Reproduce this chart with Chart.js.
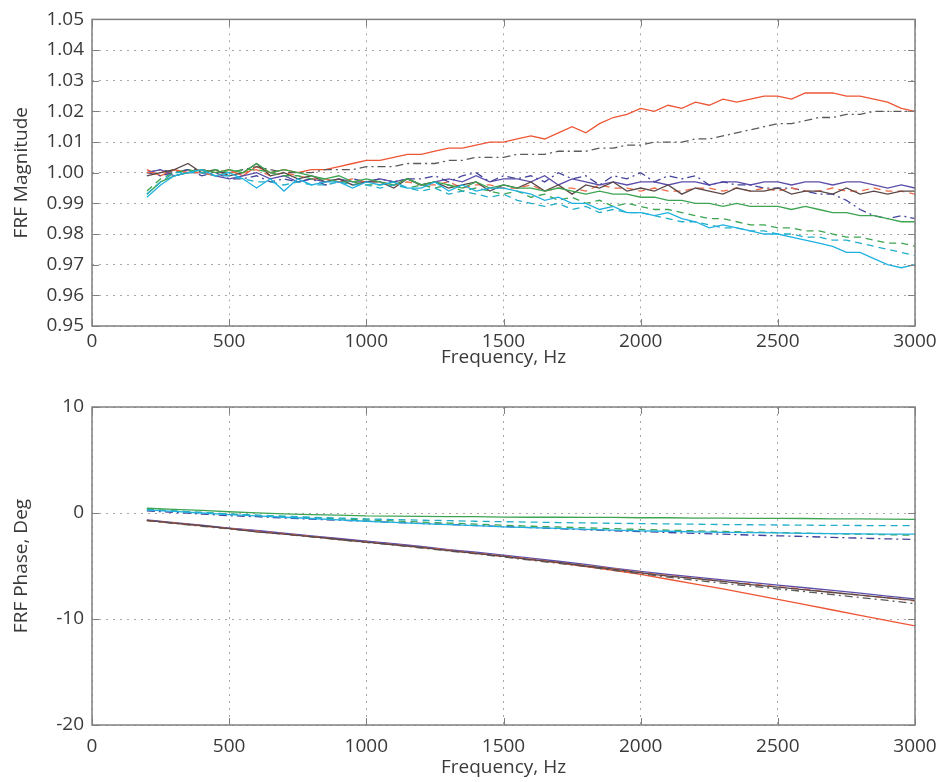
<!DOCTYPE html>
<html>
<head>
<meta charset="utf-8">
<script src="https://cdn.jsdelivr.net/npm/chart.js@4.4.1/dist/chart.umd.min.js"></script>
<style>
  html, body { margin: 0; padding: 0; background: #fff; }
  body { width: 941px; height: 782px; position: relative; overflow: hidden; }
  canvas { position: absolute; left: 0; }
  #mag { top: 0; }
  #phase { top: 380px; }
</style>
</head>
<body>
<canvas id="mag" width="941" height="372"></canvas>
<canvas id="phase" width="941" height="402"></canvas>
<script>
'use strict';

// frequency points, Hz
const magFreq = [200, 250, 300, 350, 400, 450, 500, 550, 600, 650, 700, 750, 800, 850, 900, 950,
  1000, 1050, 1100, 1150, 1200, 1250, 1300, 1350, 1400, 1450, 1500, 1550, 1600, 1650, 1700, 1750,
  1800, 1850, 1900, 1950, 2000, 2050, 2100, 2150, 2200, 2250, 2300, 2350, 2400, 2450, 2500, 2550,
  2600, 2650, 2700, 2750, 2800, 2850, 2900, 2950, 3000];
const phaseFreq = [200, 300, 400, 500, 600, 700, 800, 900, 1000, 1100, 1200, 1300, 1400, 1500, 1600,
  1700, 1800, 1900, 2000, 2100, 2200, 2300, 2400, 2500, 2600, 2700, 2800, 2900, 3000];

// FRF magnitude
const magRed = [1.001, 0.999, 1.001, 1.000, 1.001, 1.000, 1.001, 0.999, 1.002, 1.000, 1.001, 1.000, 1.001, 1.001, 1.002, 1.003, 1.004,
  1.004, 1.005, 1.006, 1.006, 1.007, 1.008, 1.008, 1.009, 1.010, 1.010,
  1.011, 1.012, 1.011, 1.013, 1.015, 1.013, 1.016, 1.018, 1.019, 1.021,
  1.020, 1.022, 1.021, 1.023, 1.022, 1.024, 1.023, 1.024, 1.025, 1.025,
  1.024, 1.026, 1.026, 1.026, 1.025, 1.025, 1.024, 1.023, 1.021, 1.020];
const magGrayDD = [1.000, 1.001, 1.000, 1.001, 1.001, 1.000, 1.000, 1.001, 1.002, 1.001, 1.000, 1.000, 1.000, 1.001, 1.001, 1.001, 1.002,
  1.002, 1.002, 1.003, 1.003, 1.003, 1.004, 1.004, 1.005, 1.005, 1.005,
  1.006, 1.006, 1.006, 1.007, 1.007, 1.007, 1.008, 1.008, 1.009, 1.009,
  1.010, 1.010, 1.010, 1.011, 1.011, 1.012, 1.013, 1.014, 1.015, 1.016,
  1.016, 1.017, 1.018, 1.018, 1.019, 1.019, 1.020, 1.020, 1.020, 1.020];
const magPurple = [1.000, 1.001, 0.999, 1.000, 1.000, 0.999, 0.998, 0.999, 1.000, 0.998, 0.999, 0.997, 0.998, 0.997, 0.998, 0.997, 0.997,
  0.998, 0.997, 0.998, 0.996, 0.997, 0.998, 0.997, 0.999, 0.997, 0.998,
  0.998, 0.997, 0.999, 0.996, 0.998, 0.997, 0.996, 0.997, 0.996, 0.997,
  0.997, 0.996, 0.997, 0.997, 0.996, 0.997, 0.997, 0.996, 0.997, 0.997,
  0.996, 0.997, 0.997, 0.996, 0.997, 0.997, 0.996, 0.995, 0.996, 0.995];
const magBrown = [0.999, 1.000, 1.001, 1.003, 1.000, 1.001, 0.999, 1.000, 1.003, 0.999, 1.000, 0.998, 0.999, 0.997, 0.998, 0.996, 0.997,
  0.997, 0.995, 0.998, 0.996, 0.997, 0.995, 0.996, 0.997, 0.994, 0.996,
  0.995, 0.997, 0.994, 0.996, 0.993, 0.996, 0.995, 0.997, 0.994, 0.995,
  0.994, 0.996, 0.993, 0.995, 0.994, 0.993, 0.995, 0.994, 0.994, 0.995,
  0.993, 0.994, 0.994, 0.993, 0.995, 0.993, 0.994, 0.993, 0.994, 0.994];
const magOrangeD = [1.000, 1.000, 1.001, 1.000, 1.000, 0.999, 1.000, 1.000, 1.001, 0.999, 1.000, 0.999, 0.998, 0.998, 0.997, 0.998, 0.997,
  0.997, 0.996, 0.997, 0.996, 0.996, 0.997, 0.995, 0.996, 0.996, 0.995,
  0.995, 0.996, 0.994, 0.995, 0.995, 0.994, 0.996, 0.995, 0.995, 0.994,
  0.995, 0.994, 0.994, 0.995, 0.995, 0.994, 0.995, 0.994, 0.995, 0.994,
  0.995, 0.994, 0.994, 0.995, 0.994, 0.994, 0.995, 0.994, 0.994, 0.993];
const magPurpleDD = [1.000, 0.999, 1.000, 1.001, 0.999, 1.000, 0.998, 0.998, 0.999, 0.997, 0.998, 0.997, 0.998, 0.996, 0.997, 0.998, 0.997,
  0.998, 0.997, 0.998, 0.998, 0.999, 0.997, 0.999, 1.000, 0.997, 0.999,
  0.998, 0.999, 0.997, 1.000, 0.998, 0.999, 0.996, 0.999, 0.998, 1.000,
  0.997, 0.999, 0.998, 0.999, 0.996, 0.997, 0.996, 0.996, 0.995, 0.995,
  0.995, 0.994, 0.993, 0.993, 0.991, 0.988, 0.986, 0.985, 0.986, 0.985];
const magGreen = [0.993, 0.997, 0.999, 1.000, 1.001, 1.000, 1.001, 1.000, 1.003, 1.000, 1.001, 1.000, 0.999, 0.998, 0.999, 0.997, 0.998,
  0.997, 0.996, 0.998, 0.996, 0.997, 0.996, 0.995, 0.997, 0.995, 0.996,
  0.995, 0.995, 0.994, 0.995, 0.994, 0.993, 0.994, 0.993, 0.993, 0.992,
  0.992, 0.991, 0.991, 0.990, 0.990, 0.989, 0.990, 0.989, 0.989, 0.989,
  0.988, 0.989, 0.988, 0.987, 0.987, 0.986, 0.986, 0.985, 0.984, 0.984];
const magGreenD = [0.994, 0.998, 1.000, 1.001, 1.000, 1.001, 1.000, 1.001, 1.001, 1.000, 0.999, 0.999, 0.998, 0.998, 0.997, 0.997, 0.996,
  0.996, 0.997, 0.995, 0.996, 0.995, 0.996, 0.994, 0.995, 0.994, 0.993,
  0.994, 0.992, 0.993, 0.991, 0.992, 0.990, 0.991, 0.989, 0.990, 0.989,
  0.988, 0.988, 0.987, 0.986, 0.985, 0.985, 0.984, 0.983, 0.983, 0.982,
  0.982, 0.981, 0.981, 0.980, 0.979, 0.979, 0.978, 0.977, 0.977, 0.976];
const magCyan = [0.992, 0.996, 0.999, 1.000, 1.001, 0.999, 1.000, 0.998, 0.995, 0.998, 0.994, 0.998, 0.996, 0.997, 0.997, 0.995, 0.997,
  0.996, 0.997, 0.995, 0.995, 0.997, 0.994, 0.996, 0.994, 0.995, 0.995,
  0.994, 0.993, 0.991, 0.992, 0.990, 0.990, 0.988, 0.989, 0.987, 0.987,
  0.986, 0.987, 0.985, 0.984, 0.982, 0.983, 0.982, 0.981, 0.980, 0.980,
  0.979, 0.978, 0.977, 0.976, 0.974, 0.974, 0.972, 0.970, 0.969, 0.970];
const magCyanD = [0.993, 0.997, 1.000, 1.000, 1.000, 0.999, 0.999, 0.998, 0.997, 0.997, 0.996, 0.997, 0.996, 0.996, 0.997, 0.996, 0.996,
  0.995, 0.996, 0.995, 0.994, 0.995, 0.993, 0.994, 0.993, 0.992, 0.993,
  0.991, 0.990, 0.989, 0.990, 0.988, 0.989, 0.987, 0.988, 0.987, 0.987,
  0.986, 0.985, 0.984, 0.984, 0.983, 0.982, 0.982, 0.981, 0.981, 0.980,
  0.980, 0.979, 0.979, 0.978, 0.978, 0.977, 0.976, 0.975, 0.974, 0.973];

// FRF phase, deg
const phRed = [-0.70, -0.95, -1.22, -1.45, -1.70, -1.95, -2.22, -2.45, -2.70, -2.95, -3.25, -3.50, -3.80, -4.10, -4.40,
  -4.70, -5.05, -5.40, -5.80, -6.25, -6.70, -7.15, -7.65, -8.15, -8.65, -9.15, -9.65, -10.15, -10.65];
const phGrayDD = [-0.72, -0.98, -1.25, -1.50, -1.75, -2.00, -2.25, -2.52, -2.78, -3.02, -3.30, -3.58, -3.85, -4.15, -4.45,
  -4.75, -5.05, -5.40, -5.72, -6.05, -6.35, -6.62, -6.90, -7.15, -7.42, -7.70, -7.98, -8.25, -8.55];
const phPurple = [-0.65, -0.90, -1.15, -1.42, -1.65, -1.90, -2.15, -2.40, -2.65, -2.90, -3.15, -3.45, -3.70, -3.98, -4.25,
  -4.55, -4.85, -5.20, -5.50, -5.80, -6.05, -6.30, -6.55, -6.80, -7.05, -7.30, -7.55, -7.85, -8.10];
const phBrown = [-0.70, -0.95, -1.20, -1.48, -1.78, -2.00, -2.22, -2.50, -2.75, -3.00, -3.25, -3.55, -3.80, -4.10, -4.40,
  -4.65, -5.00, -5.30, -5.65, -5.95, -6.20, -6.45, -6.75, -7.00, -7.25, -7.50, -7.75, -8.00, -8.25];
const phOrangeD = [-0.70, -0.92, -1.20, -1.45, -1.72, -1.95, -2.20, -2.48, -2.72, -2.98, -3.22, -3.50, -3.78, -4.05, -4.35,
  -4.65, -4.95, -5.25, -5.60, -5.90, -6.15, -6.45, -6.70, -6.95, -7.20, -7.50, -7.75, -8.00, -8.30];
const phPurpleDD = [0.20, 0.05, -0.10, -0.25, -0.35, -0.48, -0.58, -0.68, -0.78, -0.88, -0.98, -1.08, -1.18, -1.28, -1.38,
  -1.48, -1.58, -1.68, -1.76, -1.84, -1.92, -2.00, -2.08, -2.15, -2.22, -2.30, -2.37, -2.44, -2.50];
const phGreen = [0.45, 0.35, 0.25, 0.12, 0.02, -0.08, -0.15, -0.20, -0.28, -0.30, -0.32, -0.35, -0.35, -0.38, -0.40,
  -0.40, -0.42, -0.42, -0.45, -0.45, -0.48, -0.48, -0.50, -0.50, -0.52, -0.55, -0.55, -0.58, -0.60];
const phGreenD = [0.35, 0.20, 0.05, -0.10, -0.22, -0.35, -0.45, -0.55, -0.65, -0.75, -0.85, -0.95, -1.05, -1.15, -1.25,
  -1.32, -1.40, -1.48, -1.55, -1.62, -1.68, -1.74, -1.80, -1.85, -1.90, -1.95, -2.00, -2.05, -2.10];
const phCyan = [0.30, 0.15, 0.00, -0.15, -0.28, -0.40, -0.52, -0.65, -0.78, -0.88, -1.00, -1.10, -1.20, -1.30, -1.38,
  -1.45, -1.55, -1.62, -1.68, -1.72, -1.78, -1.82, -1.85, -1.88, -1.92, -1.95, -1.97, -2.00, -2.00];
const phCyanD = [0.30, 0.18, 0.05, -0.10, -0.20, -0.30, -0.40, -0.48, -0.55, -0.62, -0.68, -0.72, -0.78, -0.82, -0.86,
  -0.90, -0.94, -0.97, -1.00, -1.03, -1.06, -1.09, -1.11, -1.13, -1.15, -1.17, -1.18, -1.20, -1.20];

const xTicks = [0, 500, 1000, 1500, 2000, 2500, 3000];
const magTicks = [0.95, 0.96, 0.97, 0.98, 0.99, 1.00, 1.01, 1.02, 1.03, 1.04, 1.05];
const phaseTicks = [-20, -10, 0, 10];

const DASH = [7, 5];
const DASHDOT = [8, 4, 2, 4];

// line styles, same order for both plots
const styles = [
  { color: '#1fb1e0', dash: [] },
  { color: '#22aec8', dash: DASH },
  { color: '#3da452', dash: [] },
  { color: '#3da452', dash: DASH },
  { color: '#5a4848', dash: [] },
  { color: '#ec6a45', dash: DASH },
  { color: '#43439c', dash: DASHDOT },
  { color: '#5a4eaa', dash: [] },
  { color: '#5a5a5a', dash: DASHDOT },
  { color: '#ee5535', dash: [] }
];

const magSeries = [magCyan, magCyanD, magGreen, magGreenD, magBrown, magOrangeD, magPurpleDD, magPurple, magGrayDD, magRed];
const phaseSeries = [phCyan, phCyanD, phGreen, phGreenD, phBrown, phOrangeD, phPurpleDD, phPurple, phGrayDD, phRed];

function makeDatasets(freq, series) {
  return series.map(function (vals, i) {
    return {
      data: vals.map(function (v, j) { return { x: freq[j], y: v }; }),
      borderColor: styles[i].color,
      borderDash: styles[i].dash,
      borderWidth: 1.3,
      pointRadius: 0,
      tension: 0,
      fill: false
    };
  });
}

// matlab style box with inward tick marks
const boxPlugin = {
  id: 'box',
  afterDraw(chart) {
    const ctx = chart.ctx;
    const a = chart.chartArea;
    const xs = chart.scales.x;
    const ys = chart.scales.y;
    const len = 7;
    ctx.save();
    ctx.strokeStyle = '#808080';
    ctx.lineWidth = 1;
    ctx.beginPath();
    xs.ticks.forEach(function (t) {
      const px = Math.round(xs.getPixelForValue(t.value)) + 0.5;
      ctx.moveTo(px, a.bottom); ctx.lineTo(px, a.bottom - len);
      ctx.moveTo(px, a.top); ctx.lineTo(px, a.top + len);
    });
    ys.ticks.forEach(function (t) {
      const py = Math.round(ys.getPixelForValue(t.value)) + 0.5;
      ctx.moveTo(a.left, py); ctx.lineTo(a.left + len, py);
      ctx.moveTo(a.right, py); ctx.lineTo(a.right - len, py);
    });
    ctx.stroke();
    ctx.lineWidth = 1.5;
    ctx.strokeRect(a.left, a.top, a.right - a.left, a.bottom - a.top);
    ctx.restore();
  }
};

Chart.defaults.font.family = '"Open Sans", "DejaVu Sans", sans-serif';
Chart.defaults.font.size = 19;
Chart.defaults.color = '#3a3a3a';

function makeChart(id, freq, series, yTicks, yTitle, opt) {
  const ctx = document.getElementById(id).getContext('2d');
  return new Chart(ctx, {
    type: 'line',
    data: { datasets: makeDatasets(freq, series) },
    options: {
      responsive: false,
      animation: false,
      devicePixelRatio: 1,
      layout: { padding: { top: opt.padTop, right: 26, bottom: 0, left: 0 } },
      plugins: { legend: { display: false }, tooltip: { enabled: false } },
      scales: {
        x: {
          type: 'linear',
          min: 0,
          max: 3000,
          afterBuildTicks: function (scale) {
            scale.ticks = xTicks.map(function (v) { return { value: v }; });
          },
          afterFit: function (scale) { scale.height = opt.xHeight; },
          ticks: {
            padding: 4,
            maxRotation: 0,
            callback: function (v) { return String(v); }
          },
          // invisible tick marks only push the labels down
          grid: { color: '#a8a8a8', lineWidth: 1, drawTicks: true, tickLength: opt.xTickGap, tickColor: 'rgba(0,0,0,0)' },
          border: { display: false, dash: [2, 5] },
          title: { display: true, text: 'Frequency, Hz', padding: { top: 0, bottom: opt.xTitlePad } }
        },
        y: {
          type: 'linear',
          min: yTicks[0],
          max: yTicks[yTicks.length - 1],
          afterBuildTicks: function (scale) {
            scale.ticks = yTicks.map(function (v) { return { value: v }; });
          },
          afterFit: function (scale) { scale.width = 92; },
          ticks: {
            padding: 8,
            callback: function (v) { return opt.decimals ? v.toFixed(opt.decimals) : String(v); }
          },
          grid: { color: '#a8a8a8', lineWidth: 1, drawTicks: false },
          border: { display: false, dash: [2, 5] },
          title: { display: true, text: yTitle, padding: { top: 10, bottom: 0 } }
        }
      }
    },
    plugins: [boxPlugin]
  });
}

makeChart('mag', magFreq, magSeries, magTicks, 'FRF Magnitude',
  { padTop: 14, xHeight: 46, xTickGap: 0, xTitlePad: 3, decimals: 2 });
makeChart('phase', phaseFreq, phaseSeries, phaseTicks, 'FRF Phase, Deg',
  { padTop: 27, xHeight: 57, xTickGap: 6, xTitlePad: 3, decimals: 0 });
</script>
</body>
</html>
